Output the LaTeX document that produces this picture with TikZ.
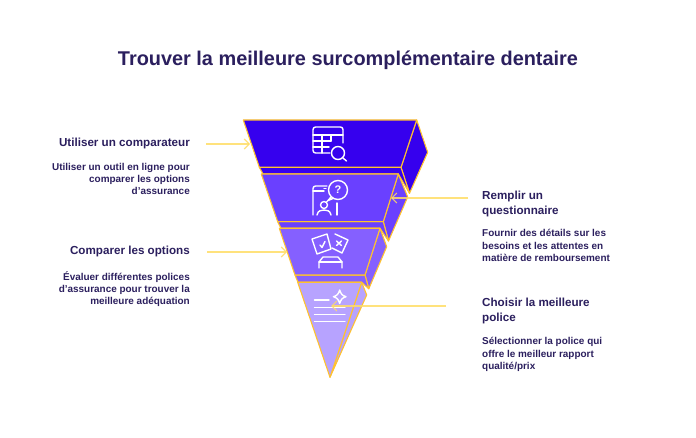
\documentclass[tikz,border=0pt]{standalone}
\usepackage{fontspec}
\setmainfont{Liberation Sans}
\usetikzlibrary{arrows.meta}
\definecolor{ink}{HTML}{2B1F5E}
\definecolor{edgey}{HTML}{FFC22E}
\definecolor{linky}{HTML}{FFDD66}
\definecolor{fa}{HTML}{3600EE}
\definecolor{fb}{HTML}{6A40FF}
\definecolor{fc}{HTML}{8560FF}
\definecolor{fd}{HTML}{B7A3FF}
\tikzset{
  x=1pt,y=-1pt,
  face/.style={draw=edgey,line width=1.1pt,line join=round},
  link/.style={draw=linky,line width=1.2pt,opacity=.85,-{Straight Barb[length=5pt,width=10pt,line width=1.1pt]}},
  icon/.style={draw=white,line width=1.4pt,line join=round,line cap=round},
  titletext/.style={font=\bfseries\fontsize{19.9}{24}\selectfont,text=ink,inner sep=0pt},
  headl/.style={font=\bfseries\fontsize{11.65}{15}\selectfont,text=ink,inner sep=0pt,anchor=east,align=right},
  descl/.style={font=\bfseries\fontsize{9.95}{12.2}\selectfont,text=ink,inner sep=0pt,anchor=north east,align=right},
  headr/.style={font=\bfseries\fontsize{11.65}{15}\selectfont,text=ink,inner sep=0pt,anchor=north west,align=left},
  descr/.style={font=\bfseries\fontsize{9.95}{12.2}\selectfont,text=ink,inner sep=0pt,anchor=north west,align=left},
}
\begin{document}
\begin{tikzpicture}
\useasboundingbox (0,0) rectangle (696,438);
\fill[white] (0,0) rectangle (696,438);
\node[titletext] (title) at (348,60.5) {Trouver la meilleure surcomplémentaire dentaire};

% level 1
\filldraw[face,fill=fa] (416.7,120) -- (427.7,152.3) -- (409.5,193.3) -- (401,167.3) -- cycle;
\filldraw[face,fill=fa] (259.3,167.3) -- (401,167.3) -- (409.5,193.3) -- (398.3,174) -- (263,174) -- cycle;
\filldraw[face,fill=fa] (243.3,120) -- (416.7,120) -- (401,167.3) -- (259.3,167.3) -- cycle;
% level 2
\filldraw[face,fill=fb] (398.3,174) -- (407.7,197) -- (388.5,241) -- (383.3,221.7) -- cycle;
\filldraw[face,fill=fb] (277.7,221.7) -- (383.3,221.7) -- (388.5,241) -- (380,228.3) -- (281,228.3) -- cycle;
\filldraw[face,fill=fb] (261.3,174) -- (398.3,174) -- (383.3,221.7) -- (277.7,221.7) -- cycle;
% level 3
\filldraw[face,fill=fc] (380,228.3) -- (386.7,246.7) -- (368.8,288.8) -- (365,275) -- cycle;
\filldraw[face,fill=fc] (295,275) -- (365,275) -- (368.8,288.8) -- (361.7,282.3) -- (298,282.3) -- cycle;
\filldraw[face,fill=fc] (279.3,228.3) -- (380,228.3) -- (365,275) -- (295,275) -- cycle;
% level 4
\filldraw[face,fill=fd] (361.7,282.3) -- (366.7,295) -- (330,377.3) -- cycle;
\filldraw[face,fill=fd] (297.7,282.3) -- (361.7,282.3) -- (330,377.3) -- cycle;

% icon 1: table + magnifier
\draw[icon,rounded corners=2.5pt] (330,153) -- (313,153) -- (313,127) -- (343,127) -- (343,143);
\draw[icon] (313,135) -- (343,135);
\draw[icon] (313,141) -- (331,141) (313,147) -- (329,147);
\draw[icon] (322,135) -- (322,153) (331,135) -- (331,141);
\draw[icon] (338,153) circle[radius=6.5];
\draw[icon] (343,158) -- (346.5,161);

% icon 2: phone, speech bubble, person
\draw[icon,rounded corners=2.5pt] (313,215) -- (313,186) -- (327,186);
\draw[icon] (313,191) -- (324,191);
\draw[icon] (324,188.5) -- (326,188.5);
\draw[icon] (338,190) circle[radius=9.5];
\draw[icon] (331,197) -- (328,200.5) -- (333,198.5);
\draw[icon] (328,200.5) -- (326.5,202);
\node[font=\bfseries\fontsize{11}{11}\selectfont,text=white,inner sep=0pt] (qm) at (338,190) {?};
\draw[icon] (324,205) circle[radius=3.5];
\draw[icon] (317,215) .. controls (318,210.5) and (321,210) .. (324,210) .. controls (327,210) and (330,210.5) .. (331,215);
\draw[icon] (337,203) -- (337,215);

% icon 3: cards + desk
\draw[icon] (312,239) -- (327,234) -- (331,249) -- (317,254) -- cycle;
\draw[icon] (320,245) -- (322,247.5) -- (325,241.5);
\draw[icon] (335,234) -- (348,240) -- (342,253) -- (332,248);
\draw[icon] (336.5,241) -- (341.5,245.5) (341.5,241) -- (336.5,245.5);
\draw[icon] (319,268) -- (319,262) -- (323,257) -- (338,257) -- (342,262) -- (342,268);
\draw[icon] (319,262) -- (342,262);

% icon 4: lines + sparkle
\draw[icon] (314.5,300) -- (329,300) (314.5,307.5) -- (345,307.5) (314.5,314.5) -- (345,314.5) (314.5,321.5) -- (345,321.5);
\draw[icon] (339.7,290) .. controls (341,294) and (342,295.5) .. (346,296.7) .. controls (342,298) and (341,299.5) .. (339.7,303.4) .. controls (338.4,299.5) and (337.4,298) .. (333.4,296.7) .. controls (337.4,295.5) and (338.4,294) .. (339.7,290) -- cycle;

% labels
\node[headl] (h1) at (190,143.5) {Utiliser un comparateur};
\node[descl] (d1) at (190,163) {Utiliser un outil en ligne pour\\comparer les options\\d'assurance};
\node[headl] (h3) at (190,251.5) {Comparer les options};
\node[descl] (d3) at (190,271) {Évaluer différentes polices\\d'assurance pour trouver la\\meilleure adéquation};
\node[headr] (h2) at (482,190.5) {Remplir un\\questionnaire};
\node[descr] (d2) at (482,229.5) {Fournir des détails sur les\\besoins et les attentes en\\matière de remboursement};
\node[headr] (h4) at (482,298) {Choisir la meilleure\\police};
\node[descr] (d4) at (482,337.5) {Sélectionner la police qui\\offre le meilleur rapport\\qualité/prix};

% connectors
\coordinate (a1) at (206,144); \coordinate (b1) at (250,144);
\coordinate (a2) at (468,198); \coordinate (b2) at (391,198);
\coordinate (a3) at (207,252); \coordinate (b3) at (287,252);
\coordinate (a4) at (446,306); \coordinate (b4) at (331,306);
\draw[link] (a1) -- (b1);
\draw[link] (a2) -- (b2);
\draw[link] (a3) -- (b3);
\draw[link] (a4) -- (b4);
\end{tikzpicture}
\end{document}
